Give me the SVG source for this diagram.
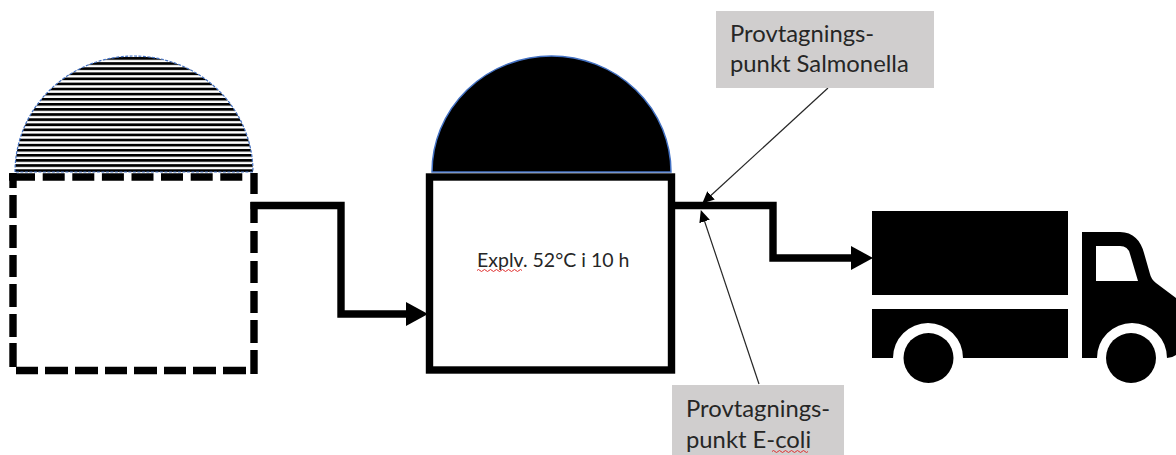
<svg xmlns="http://www.w3.org/2000/svg" width="1176" height="455" viewBox="0 0 1176 455">
<style>
.t{font-family:"Lato","Open Sans","Liberation Sans",sans-serif;fill:#262626}
.big{font-size:23.8px}
.thick{fill:none;stroke:#000;stroke-width:7.4}
.thin{fill:none;stroke:#262626;stroke-width:1.2}
.sq{fill:none;stroke:#e03030;stroke-width:1}
.lbl{fill:#d0cece}
</style>
<defs>
<pattern id="stripes" width="8" height="5.1" patternUnits="userSpaceOnUse" patternTransform="translate(0 1)">
<rect width="8" height="5.1" fill="#fff"/><rect width="8" height="2.7" fill="#000"/>
</pattern>
<marker id="big" markerUnits="userSpaceOnUse" markerWidth="22" markerHeight="24" refX="1" refY="12" orient="auto"><path d="M0 0L22 12L0 24z" fill="#000"/></marker>
<marker id="small" markerUnits="userSpaceOnUse" markerWidth="12" markerHeight="12" refX="1" refY="6" orient="auto"><path d="M0 0.500L12 6L0 11.500z" fill="#000"/></marker>
</defs>
<g id="digester-left">
<path d="M15 172A119 116 0 0 1 253 172Z" fill="url(#stripes)" stroke="#4472c4" stroke-width="1.200" stroke-dasharray="3 1.500"/>
<path class="thick" d="M9 177H35M42.700 177H64.700M72.300 177H94.300M101.900 177H123.900M131.500 177H153.500M161 177H183M190.700 177H212.700M220.300 177H242.300
M254 173V194M254 202V223M254 231V253M254 261V283M254 291V313M254 320V343M254 350V374
M13 173V188M13 195V218M13 225V248M13 255V277M13 284V307M13 314V337M13 343V367
M16 370.500H38M45 370.500H68M75 370.500H98M105 370.500H127M134 370.500H157M164 370.500H186M193 370.500H216M223 370.500H246"/>
</g>
<g id="digester-middle">
<path d="M432 172A119.500 116 0 0 1 671 172Z" fill="#000" stroke="#4472c4" stroke-width="1.500"/>
<rect class="thick" x="429.500" y="177" width="242" height="193" style="fill:#fff"/>
<text class="t" x="477" y="267" font-size="19.500">Explv. 52°C i 10 h</text>
<path class="sq" d="M477 270.500q1.500-2 3 0t3 0 3 0 3 0 3 0 3 0 3 0 3 0 3 0 3 0 3 0 3 0 3 0 3 0 3 0"/>
</g>
<g id="connectors">
<path class="thick" d="M250.500 205.500H341V314H407" marker-end="url(#big)"/>
<path class="thick" d="M672 205.500H773V258H852" marker-end="url(#big)"/>
<path class="thin" d="M828 88L710.300 196" marker-end="url(#small)"/>
<path class="thin" d="M759 384L704.300 220.500" marker-end="url(#small)"/>
</g>
<g id="truck">
<rect x="872" y="211" width="196" height="84"/>
<path d="M872 309H1068V358H963A35 35 0 0 0 893 358H872Z"/>
<circle cx="928.500" cy="358" r="25"/>
<path fill-rule="evenodd" d="M1082 232H1120C1133 232 1141 241 1144 253L1150 274Q1151 279 1156 283L1176 298V355Q1172 358 1167 358A35 35 0 0 0 1097 358H1082ZM1096 246V281H1138L1130 254Q1128 246 1120 246Z"/>
<circle cx="1131" cy="358" r="25"/>
</g>
<g id="label-salmonella">
<rect class="lbl" x="716" y="11" width="218" height="77"/>
<text class="t big" x="730" y="42">Provtagnings-</text>
<text class="t big" x="730" y="72">punkt Salmonella</text>
</g>
<g id="label-ecoli">
<rect class="lbl" x="672" y="385" width="172" height="70"/>
<text class="t big" x="686" y="417">Provtagnings-</text>
<text class="t big" x="686" y="448">punkt E-coli</text>
<path class="sq" d="M772 451.500q1.500-2 3 0t3 0 3 0 3 0 3 0 3 0 3 0 3 0 3 0 3 0 3 0 3 0"/>
</g>
</svg>
